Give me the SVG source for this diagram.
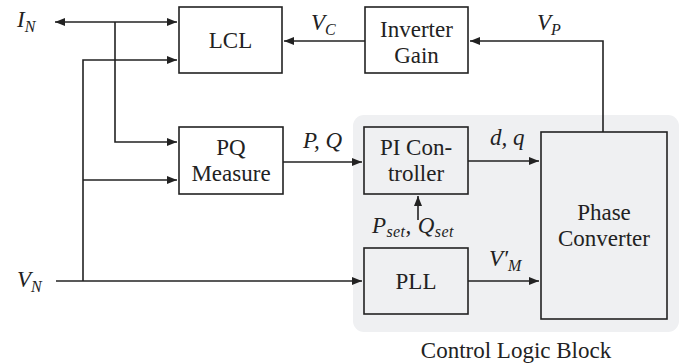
<svg xmlns="http://www.w3.org/2000/svg" width="689" height="364" viewBox="0 0 689 364">
<style>
.box{fill:#ffffff;stroke:#222;stroke-width:1.6}
.ibox{fill:#eff0f2;stroke:#222;stroke-width:1.6}
.t{font-family:'Liberation Serif','DejaVu Serif',serif;font-size:23px;fill:#222;text-anchor:middle}
.m{font-family:'Liberation Serif','DejaVu Serif',serif;font-size:23px;font-style:italic;fill:#222}
.s{font-size:16px}
.c{fill:none;stroke:#222;stroke-width:1.6}
</style>
<defs>
<marker id="ah" markerUnits="userSpaceOnUse" markerWidth="12" markerHeight="9" refX="10" refY="4" orient="auto-start-reverse">
<path d="M0,0 L10,4 L0,8 z" fill="#222"/>
</marker>
</defs>
<rect id="panel" x="353" y="115" width="326" height="217" rx="11" fill="#eff0f2"/>
<g id="connectors">
<path class="c" d="M55,22 H177" marker-start="url(#ah)" marker-end="url(#ah)"/>
<path class="c" d="M115,22 V142 H177" marker-end="url(#ah)"/>
<path class="c" d="M177,60 H83 V281" marker-start="url(#ah)"/>
<path class="c" d="M83,180 H177" marker-end="url(#ah)"/>
<path class="c" d="M56,281 H362" marker-end="url(#ah)"/>
<path class="c" d="M365,41 H284" marker-end="url(#ah)"/>
<path class="c" d="M603,132 V41 H470" marker-end="url(#ah)"/>
<path class="c" d="M283,162 H362" marker-end="url(#ah)"/>
<path class="c" d="M468,161 H539" marker-end="url(#ah)"/>
<path class="c" d="M418,220 V196" marker-end="url(#ah)"/>
<path class="c" d="M468,281 H539" marker-end="url(#ah)"/>
</g>
<g id="lcl"><rect class="box" x="179" y="7" width="103" height="66"/><text class="t" x="230.5" y="48">LCL</text></g>
<g id="inverter"><rect class="box" x="365" y="7" width="103" height="66"/><text class="t" x="416.5" y="37">Inverter</text><text class="t" x="416.5" y="63">Gain</text></g>
<g id="pq"><rect class="box" x="179" y="127" width="104" height="67"/><text class="t" x="231" y="155">PQ</text><text class="t" x="231" y="181">Measure</text></g>
<g id="pi"><rect class="ibox" x="364" y="127" width="104" height="67"/><text class="t" x="416" y="155">PI Con-</text><text class="t" x="416" y="181">troller</text></g>
<g id="pll"><rect class="ibox" x="364" y="248" width="104" height="66"/><text class="t" x="416" y="289">PLL</text></g>
<g id="phase"><rect class="ibox" x="541" y="132" width="126" height="187"/><text class="t" x="604" y="220">Phase</text><text class="t" x="604" y="246">Converter</text></g>
<g id="labels">
<text class="m" x="17" y="27">I<tspan class="s" dy="5">N</tspan></text>
<text class="m" x="311" y="30">V<tspan class="s" dy="5">C</tspan></text>
<text class="m" x="537" y="30">V<tspan class="s" dy="5">P</tspan></text>
<text class="m" x="303" y="148">P, Q</text>
<text class="m" x="490" y="145">d, q</text>
<text class="m" x="372" y="233" letter-spacing="0.4">P<tspan class="s" dy="4">set</tspan><tspan dy="-4">, Q</tspan><tspan class="s" dy="4">set</tspan></text>
<text class="m" x="489" y="266">V′<tspan class="s" dy="5">M</tspan></text>
<text class="m" x="17" y="287">V<tspan class="s" dy="5">N</tspan></text>
<text class="t" x="516" y="358">Control Logic Block</text>
</g>
</svg>
